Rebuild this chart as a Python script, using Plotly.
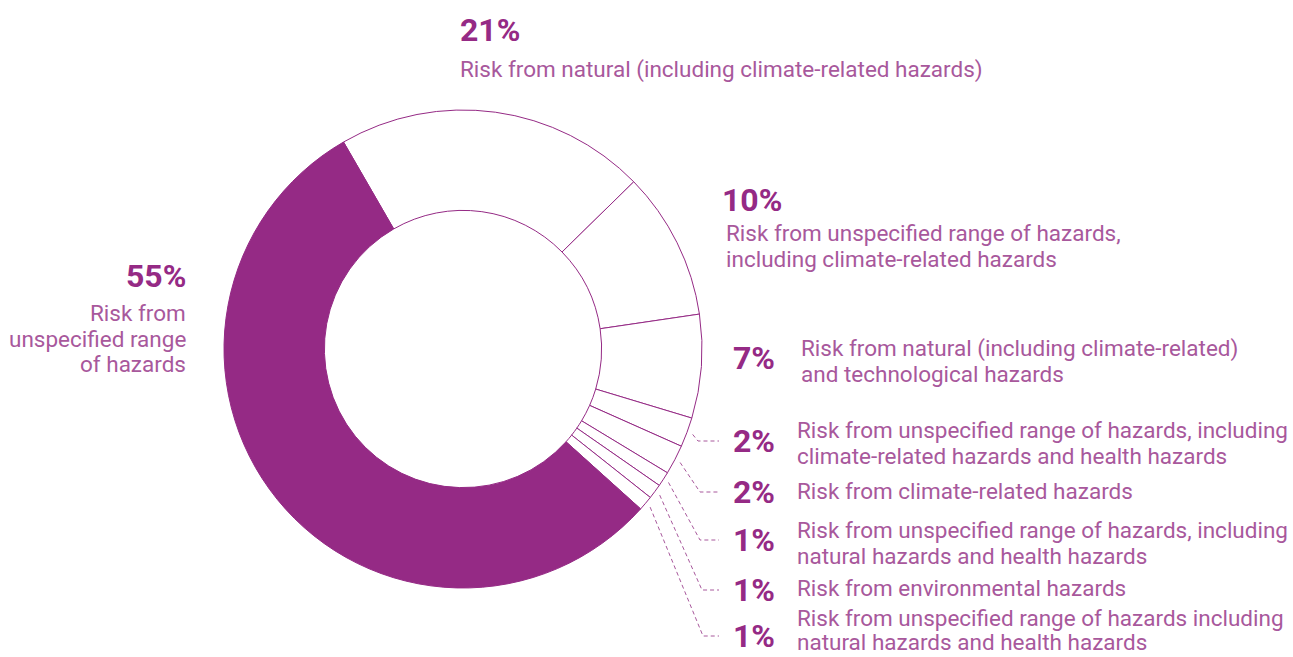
import math
import plotly.graph_objects as go

# ---- data ----
shares = [21, 10, 7, 2, 2, 1, 1, 1, 55]
pct_labels = ["21%", "10%", "7%", "2%", "2%", "1%", "1%", "1%", "55%"]
descriptions = [
    "Risk from natural (including climate-related hazards)",
    "Risk from unspecified range of hazards,<br>including climate-related hazards",
    "Risk from natural (including climate-related)<br>and technological hazards",
    "Risk from unspecified range of hazards, including<br>climate-related hazards and health hazards",
    "Risk from climate-related hazards",
    "Risk from unspecified range of hazards, including<br>natural hazards and health hazards",
    "Risk from environmental hazards",
    "Risk from unspecified range of hazards including<br>natural hazards and health hazards",
    "Risk from<br>unspecified range<br>of hazards",
]

PURPLE = "#952a85"
LABEL = "#a8589c"
FONT = "Roboto"
W, H = 1293, 657
CX, CY, R = 463, 349, 239
HOLE = 0.58
ROT = -30

slice_colors = ["white"] * 8 + [PURPLE]

fig = go.Figure()

fig.add_trace(go.Pie(
    values=shares,
    labels=[f"s{i}" for i in range(len(shares))],
    sort=False,
    direction="clockwise",
    rotation=ROT,
    hole=HOLE,
    marker=dict(colors=slice_colors, line=dict(color=PURPLE, width=1)),
    textinfo="none",
    hoverinfo="skip",
    showlegend=False,
    domain=dict(x=[(CX - R) / W, (CX + R) / W], y=[1 - (CY + R) / H, 1 - (CY - R) / H]),
))

# ---- label layout (pixel coords) ----
# (pct_x, pct_y, pct_anchor, desc_x, desc_first_line_y, desc_anchor, line_gap)
layout_pos = [
    (459, 30, "left", 459, 69, "left", 25.5),
    (721, 200, "left", 725, 233, "left", 25.5),
    (776, 358, "right", 800, 348, "left", 25.5),
    (776, 441, "right", 796, 430, "left", 25.5),
    (776, 492, "right", 796, 491, "left", 25.5),
    (776, 540, "right", 796, 530, "left", 25.5),
    (776, 590, "right", 796, 588, "left", 25.5),
    (776, 636, "right", 796, 618, "left", 24),
    (187, 276, "right", 187, 313, "right", 25.5),
]
elbow_x = {3: 698, 4: 700, 5: 700, 6: 702, 7: 703}
leader_end_x = 719

annotations = []
for i, (px, py, pa, dx, dy, da, gap) in enumerate(layout_pos):
    annotations.append(dict(
        x=px, y=py, xref="x", yref="y", text=f"<b>{pct_labels[i]}</b>",
        showarrow=False, xanchor=pa, yanchor="middle", borderpad=0,
        font=dict(family=FONT, size=32, color=PURPLE),
    ))
    for k, line in enumerate(descriptions[i].split("<br>")):
        annotations.append(dict(
            x=dx, y=dy + k * gap, xref="x", yref="y", text=line,
            showarrow=False, xanchor=da, yanchor="middle", align=da, borderpad=0,
            font=dict(family=FONT, size=22.5, color=LABEL),
        ))

# leader lines for small slices, starting from slice mid-angles
total = sum(shares)
cum = 0
for i, v in enumerate(shares):
    mid = ROT + (cum + v / 2) / total * 360
    cum += v
    if i in elbow_x:
        a = math.radians(mid)
        sx = CX + (R + 6) * math.sin(a)
        sy = CY - (R + 6) * math.cos(a)
        ly = layout_pos[i][1]
        fig.add_trace(go.Scatter(
            x=[sx, elbow_x[i], leader_end_x], y=[sy, ly, ly],
            mode="lines", line=dict(color=LABEL, width=1, dash="4px,3px"),
            hoverinfo="skip", showlegend=False,
        ))

fig.update_layout(
    width=W, height=H,
    margin=dict(l=0, r=0, t=0, b=0),
    paper_bgcolor="white", plot_bgcolor="rgba(0,0,0,0)",
    xaxis=dict(range=[0, W], visible=False, domain=[0, 1], fixedrange=True),
    yaxis=dict(range=[H, 0], visible=False, domain=[0, 1], fixedrange=True),
    annotations=annotations,
    showlegend=False,
)

fig.write_html("out.html")
